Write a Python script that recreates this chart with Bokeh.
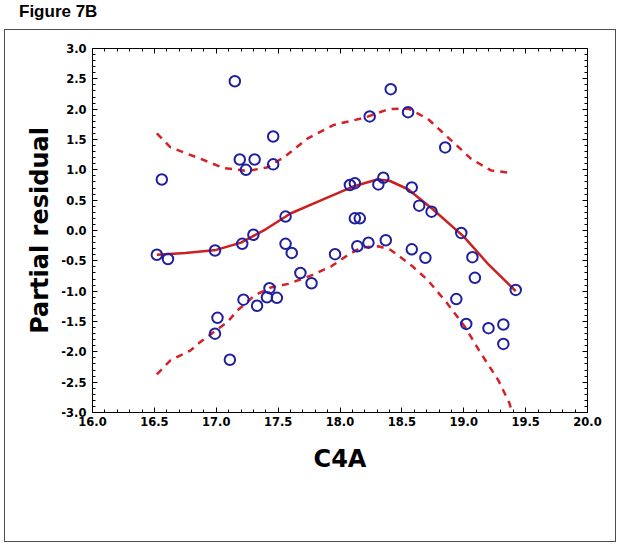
from bokeh.plotting import figure
from bokeh.layouts import column
from bokeh.models import (Range1d, SingleIntervalTicker, NumeralTickFormatter,
                          LinearAxis, CustomLabelingPolicy, Div)
from bokeh.embed import file_html
from bokeh.resources import INLINE

# ---- data ----
c4a = [16.52, 16.56, 16.61, 16.99, 16.99, 17.01, 17.11, 17.15, 17.19, 17.21,
       17.22, 17.24, 17.30, 17.31, 17.33, 17.41, 17.43, 17.46, 17.46, 17.49,
       17.56, 17.56, 17.61, 17.68, 17.77, 17.96, 18.08, 18.12, 18.12, 18.16,
       18.14, 18.23, 18.24, 18.31, 18.35, 18.37, 18.41, 18.55, 18.58, 18.58,
       18.64, 18.69, 18.74, 18.85, 18.94, 18.98, 19.02, 19.07, 19.09, 19.20,
       19.32, 19.32, 19.42]
residual = [-0.40, 0.84, -0.47, -0.33, -1.70, -1.44, -2.13, 2.46, 1.17, -0.22,
            -1.14, 1.00, -0.07, 1.17, -1.24, -1.10, -0.95, 1.55, 1.09, -1.11,
            0.23, -0.22, -0.37, -0.70, -0.87, -0.39, 0.75, 0.78, 0.20, 0.20,
            -0.26, -0.20, 1.88, 0.76, 0.87, -0.16, 2.33, 1.95, 0.71, -0.31,
            0.41, -0.45, 0.31, 1.37, -1.13, -0.04, -1.54, -0.44, -0.78, -1.61,
            -1.55, -1.87, -0.98]

fit_x = [16.52, 16.75, 17.00, 17.20, 17.40, 17.60, 17.85, 18.10, 18.30, 18.40,
         18.55, 18.75, 19.00, 19.20, 19.42]
fit_y = [-0.40, -0.37, -0.32, -0.20, 0.02, 0.28, 0.50, 0.72, 0.84, 0.82,
         0.68, 0.35, -0.10, -0.56, -1.00]

upper_x = [16.52, 16.63, 16.85, 17.06, 17.25, 17.41, 17.55, 17.74, 17.95, 18.20,
           18.39, 18.55, 18.71, 18.87, 19.06, 19.22, 19.38]
upper_y = [1.60, 1.37, 1.20, 1.03, 0.98, 1.04, 1.21, 1.52, 1.74, 1.86,
           2.00, 2.01, 1.84, 1.54, 1.18, 0.99, 0.95]

lower_x = [16.52, 16.63, 16.79, 16.87, 17.09, 17.17, 17.31, 17.44, 17.58, 17.77,
           17.93, 18.06, 18.17, 18.31, 18.41, 18.58, 18.71, 18.87, 19.01, 19.14,
           19.28, 19.37, 19.39]
lower_y = [-2.37, -2.14, -1.98, -1.84, -1.51, -1.32, -1.07, -0.94, -0.88, -0.74,
           -0.59, -0.41, -0.28, -0.26, -0.32, -0.58, -0.82, -1.21, -1.59, -2.03,
           -2.47, -2.85, -3.00]

x_limits = (16.0, 20.0)
y_limits = (-3.0, 3.0)
tick_step = 0.5

title_text = "Figure 7B"
x_label = "C4A"
y_label = "Partial residual"

# ---- header ----
header = Div(
    text=('<div style="font-family: \'Liberation Sans\', Arial, sans-serif; '
          'font-weight: bold; font-size: 17px; line-height: 18px; '
          'padding: 3px 0 0 19px; color: black;">' + title_text + '</div>'),
    width=620, height=25, margin=0)

# ---- figure ----
p = figure(width=620, height=521, output_backend="svg", toolbar_location=None,
           x_range=Range1d(*x_limits), y_range=Range1d(*y_limits),
           min_border_left=92, min_border_right=33,
           min_border_top=23, min_border_bottom=134,
           background_fill_color="white", border_fill_color=None,
           margin=0,
           styles={"outline": "1.5px solid #4d4d4d", "outline-offset": "-5px",
                   "background-color": "white"})
p.grid.visible = False
p.outline_line_color = "black"
p.outline_line_width = 1

no_labels = CustomLabelingPolicy(
    code="for (const i of indices) { indices.unset(i) }\nreturn indices")


def style_axis(ax, show_labels):
    ax.ticker = SingleIntervalTicker(interval=tick_step, num_minor_ticks=5)
    ax.formatter = NumeralTickFormatter(format="0.0")
    ax.axis_line_color = "black"
    ax.major_tick_in = 5
    ax.major_tick_out = 0
    ax.minor_tick_in = 3
    ax.minor_tick_out = 0
    ax.major_tick_line_color = "black"
    ax.minor_tick_line_color = "black"
    if show_labels:
        ax.major_label_text_font = "DejaVu Sans"
        ax.major_label_text_font_style = "bold"
        ax.major_label_text_font_size = "11.5px"
        ax.major_label_text_color = "black"
        ax.axis_label_text_font = "DejaVu Sans"
        ax.axis_label_text_font_style = "bold"
        ax.axis_label_text_font_size = "24px"
        ax.axis_label_text_color = "black"
    else:
        ax.major_label_policy = no_labels
        ax.major_label_standoff = 0


xa = p.xaxis[0]
ya = p.yaxis[0]
style_axis(xa, True)
style_axis(ya, True)
xa.axis_label = x_label
ya.axis_label = y_label
xa.major_label_standoff = 4
xa.axis_label_standoff = 16
ya.major_label_standoff = 6
ya.axis_label_standoff = 4

top_ax = LinearAxis()
right_ax = LinearAxis()
style_axis(top_ax, False)
style_axis(right_ax, False)
p.add_layout(top_ax, "above")
p.add_layout(right_ax, "right")

# ---- glyphs ----
p.line(upper_x, upper_y, line_color="#d42027", line_width=2.5, line_dash="7 6")
p.line(lower_x, lower_y, line_color="#d42027", line_width=2.5, line_dash="7 6")
p.line(fit_x, fit_y, line_color="#cc1f1f", line_width=2.5)
p.scatter(c4a, residual, marker="circle", size=10.5, fill_color=None,
          line_color="#1f1fa0", line_width=2)

layout = column(header, p, spacing=0, margin=0)

open("out.html", "w").write(file_html(layout, INLINE))
